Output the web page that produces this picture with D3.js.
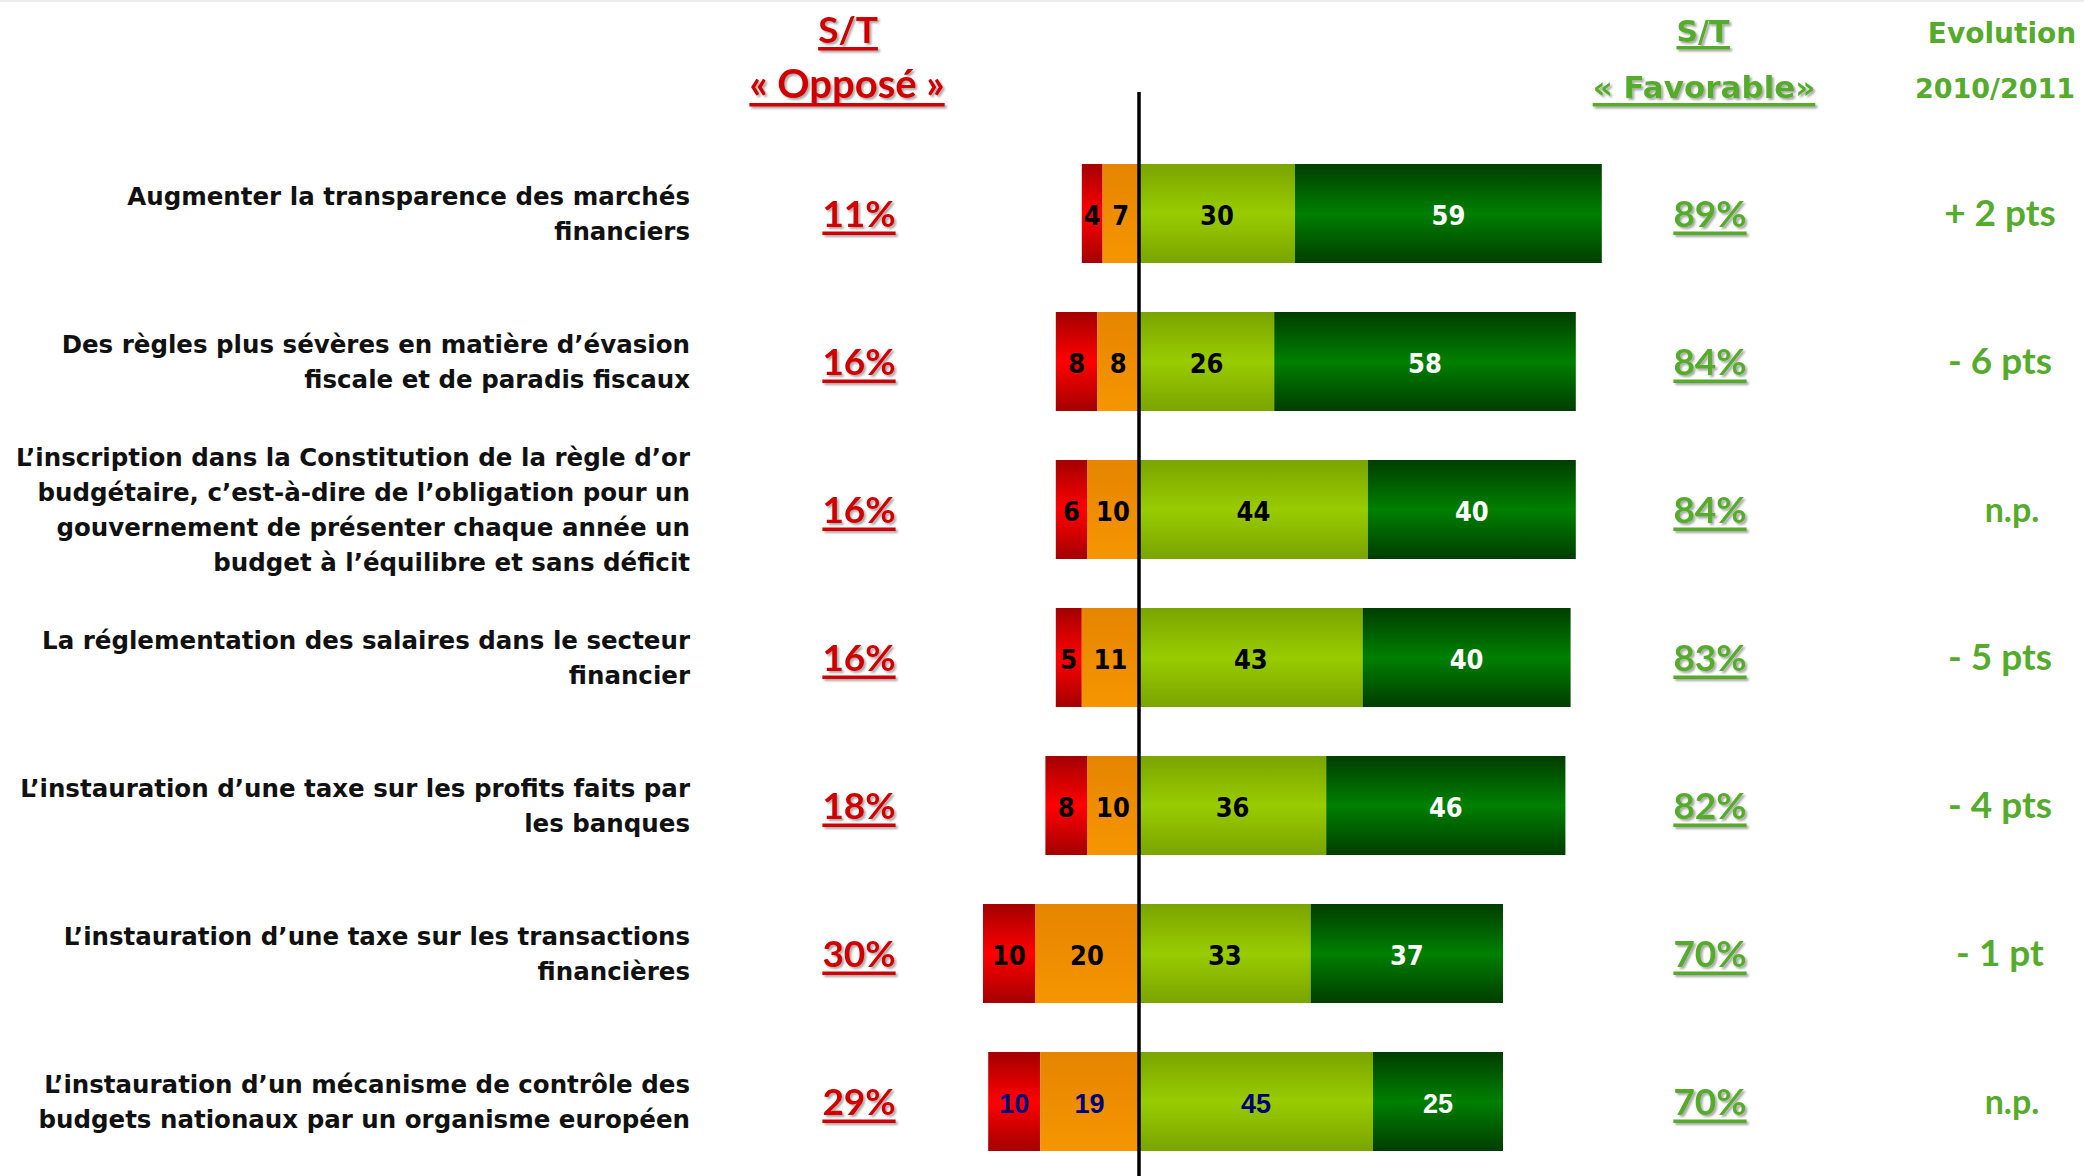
<!DOCTYPE html>
<html>
<head>
<meta charset="utf-8">
<title>S/T Opposé / Favorable</title>
<script src="https://d3js.org/d3.v7.min.js"></script>
<style>
  body { margin: 0; background: #fff; }
  svg { display: block; }
</style>
</head>
<body>
<script>
// values
const labels = [
  ["Augmenter la transparence des marchés", "financiers"],
  ["Des règles plus sévères en matière d’évasion", "fiscale et de paradis fiscaux"],
  ["L’inscription dans la Constitution de la règle d’or", "budgétaire, c’est-à-dire de l’obligation pour un", "gouvernement de présenter chaque année un", "budget à l’équilibre et sans déficit"],
  ["La réglementation des salaires dans le secteur", "financier"],
  ["L’instauration d’une taxe sur les profits faits par", "les banques"],
  ["L’instauration d’une taxe sur les transactions", "financières"],
  ["L’instauration d’un mécanisme de contrôle des", "budgets nationaux par un organisme européen"]
];
const tresOppose = [4, 8, 6, 5, 8, 10, 10];
const plutotOppose = [7, 8, 10, 11, 10, 20, 19];
const plutotFavorable = [30, 26, 44, 43, 36, 33, 45];
const tresFavorable = [59, 58, 40, 40, 46, 37, 25];
const totalOppose = ["11%", "16%", "16%", "16%", "18%", "30%", "29%"];
const totalFavorable = ["89%", "84%", "84%", "83%", "82%", "70%", "70%"];
const evolution = ["+ 2 pts", "- 6 pts", "n.p.", "- 5 pts", "- 4 pts", "- 1 pt", "n.p."];

const w = 2084, h = 1176;
const zeroX = 1139;
const barH = 99;
const red = "#d00000", green = "#55ab2c";
const labelFont = "'DejaVu Sans', sans-serif";
const barFont = "'DejaVu Sans Condensed', 'DejaVu Sans', sans-serif";
const pctFont = "Lato, 'Open Sans', sans-serif";

const svg = d3.select("body").append("svg")
  .attr("width", w).attr("height", h);

const defs = svg.append("defs");
const shadow = defs.append("filter").attr("id", "shadow")
  .attr("x", "-20%").attr("y", "-20%").attr("width", "140%").attr("height", "160%");
shadow.append("feDropShadow")
  .attr("dx", 2).attr("dy", 2).attr("stdDeviation", 1.2)
  .attr("flood-color", "#000").attr("flood-opacity", 0.35);

// vertical gradients for the four segments
const grads = {
  tresOpp: ["#a30000", "#ff0000", "#a30000"],
  plutotOpp: ["#e68500", "#ee8d00", "#f59600"],
  plutotFav: ["#7aa400", "#99cc00", "#7aa400"],
  tresFav: ["#003d00", "#008000", "#003d00"]
};
Object.entries(grads).forEach(([id, c]) => {
  const g = defs.append("linearGradient").attr("id", id)
    .attr("x1", 0).attr("y1", 0).attr("x2", 0).attr("y2", 1);
  g.append("stop").attr("offset", "0%").attr("stop-color", c[0]);
  g.append("stop").attr("offset", "50%").attr("stop-color", c[1]);
  g.append("stop").attr("offset", "100%").attr("stop-color", c[2]);
});

svg.append("rect").attr("x", 0).attr("y", 0).attr("width", w).attr("height", 2).attr("fill", "#ececec");

const x = d3.scaleLinear().domain([0, 100]).range([zeroX, zeroX + 520]);
const y = d3.scalePoint().domain(d3.range(labels.length)).range([213.5, 213.5 + 148 * 6]);
// negative values mirror the positive scale around zero
const xs = v => v < 0 ? 2 * zeroX - x(-v) : x(v);

const rows = labels.map((l, i) => {
  const o1 = tresOppose[i], o2 = plutotOppose[i], f1 = plutotFavorable[i], f2 = tresFavorable[i];
  const ink = i === 6 ? "#000080" : "#000";
  return {
    i,
    segs: [
      { v: o1, x0: -(o1 + o2), x1: -o2, fill: "tresOpp", color: ink },
      { v: o2, x0: -o2, x1: 0, fill: "plutotOpp", color: ink },
      { v: f1, x0: 0, x1: f1, fill: "plutotFav", color: ink },
      { v: f2, x0: f1, x1: f1 + f2, fill: "tresFav", color: "#fff" }
    ]
  };
});

const row = svg.selectAll("g.row").data(rows).enter().append("g")
  .attr("class", "row")
  .attr("transform", d => "translate(0," + y(d.i) + ")");

row.selectAll("rect").data(d => d.segs).enter().append("rect")
  .attr("x", d => xs(d.x0))
  .attr("width", d => xs(d.x1) - xs(d.x0))
  .attr("y", -barH / 2)
  .attr("height", barH)
  .attr("fill", d => "url(#" + d.fill + ")");

row.each(function (r) {
  d3.select(this).selectAll("text.val").data(r.segs).enter().append("text")
    .attr("class", "val")
    .attr("x", d => (xs(d.x0) + xs(d.x1)) / 2)
    .attr("y", 11)
    .attr("text-anchor", "middle")
    .attr("font-family", r.i === 6 ? "'Liberation Sans', Arial, sans-serif" : barFont)
    .attr("font-weight", "bold")
    .attr("font-size", 27)
    .attr("fill", d => d.color)
    .text(d => d.v);
});

// category labels, right aligned
row.each(function (r) {
  const lines = labels[r.i];
  d3.select(this).selectAll("text.lbl").data(lines).enter().append("text")
    .attr("class", "lbl")
    .attr("x", 690)
    .attr("y", (d, k) => (k - (lines.length - 1) / 2) * 35 + 8.5)
    .attr("text-anchor", "end")
    .attr("font-family", labelFont)
    .attr("font-weight", "bold")
    .attr("font-size", 24.5)
    .attr("fill", "#111")
    .text(d => d);
});

// text with an underline and a soft shadow
function underlined(g, tx, ty, txt, color, font, size, gap) {
  const t = g.append("g").attr("filter", "url(#shadow)");
  const el = t.append("text")
    .attr("x", tx).attr("y", ty)
    .attr("text-anchor", "middle")
    .attr("font-family", font)
    .attr("font-weight", "bold")
    .attr("font-size", size)
    .attr("fill", color)
    .text(txt);
  const bb = el.node().getBBox();
  t.append("rect")
    .attr("x", bb.x).attr("y", ty + gap)
    .attr("width", bb.width).attr("height", 3.5)
    .attr("fill", color);
}

row.each(function (r) {
  const g = d3.select(this);
  const np = evolution[r.i] === "n.p.";
  underlined(g, 859, 13, totalOppose[r.i], red, pctFont, 37, 5);
  underlined(g, 1710, 13, totalFavorable[r.i], green, pctFont, 37, 5);
  g.append("text")
    .attr("x", np ? 2012 : 2000).attr("y", 12)
    .attr("text-anchor", "middle")
    .attr("font-family", pctFont)
    .attr("font-weight", "bold")
    .attr("font-size", np ? 34 : 37)
    .attr("fill", green)
    .text(evolution[r.i]);
});

// headers
const head = svg.append("g");
underlined(head, 848, 43, "S/T", red, pctFont, 37, 4);
underlined(head, 847, 98, "« Opposé »", red, pctFont, 40, 5);
underlined(head, 1703, 42, "S/T", green, labelFont, 30, 4);
underlined(head, 1704, 98, "« Favorable»", green, labelFont, 31, 5);
head.append("text").attr("x", 2002).attr("y", 43)
  .attr("text-anchor", "middle").attr("font-family", labelFont).attr("font-weight", "bold")
  .attr("font-size", 28).attr("fill", green).text("Evolution");
head.append("text").attr("x", 1995).attr("y", 98)
  .attr("text-anchor", "middle").attr("font-family", labelFont).attr("font-weight", "bold")
  .attr("font-size", 27).attr("fill", green).text("2010/2011");

// zero line
svg.append("line")
  .attr("x1", zeroX).attr("x2", zeroX)
  .attr("y1", 92).attr("y2", h)
  .attr("stroke", "#000").attr("stroke-width", 3.5);
</script>
</body>
</html>
